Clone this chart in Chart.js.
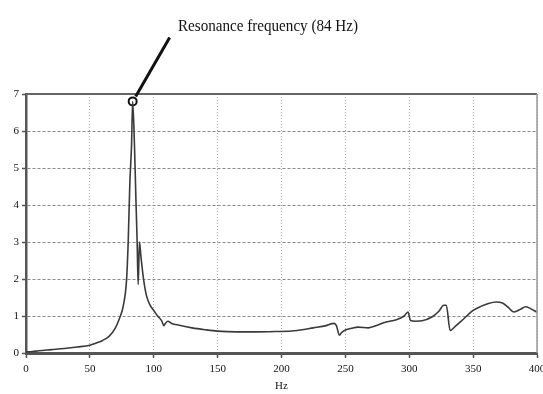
<!DOCTYPE html>
<html lang="en">
<head>
    <meta charset="UTF-8">
    <title>Resonance frequency</title>
    <script src="https://cdn.jsdelivr.net/npm/chart.js"></script>
    <style>
        body {
            margin: 0;
            padding: 0;
            background: #fff;
        }
        .chart-box {
            width: 543px;
            height: 394px;
        }
    </style>
</head>
<body>
    <div class="chart-box">
        <canvas id="respChart"></canvas>
    </div>

    <script>
        // frequency (Hz) and response amplitude
        const hz = [0, 5, 10, 20, 30, 40, 50, 55, 60, 65, 70, 73, 76, 78.7, 80, 81.3, 82.6, 83.5,
            85, 86, 87, 87.8, 88.8, 90, 92, 94.3, 97, 100, 103, 106, 108, 109, 111, 114,
            120, 130, 140, 150, 165, 180, 195, 210, 225, 235, 241, 243, 245.3, 247, 250, 255, 260,
            268, 275, 280, 290, 296, 299, 301, 305, 310, 318, 323, 327, 329, 332, 336, 340, 345,
            350, 356, 362, 368, 373, 377, 382, 387, 391, 395, 400];
        const amp = [0.03, 0.04, 0.06, 0.09, 0.12, 0.16, 0.21, 0.27, 0.34, 0.45, 0.68, 0.92, 1.25, 1.97, 3.0, 4.6, 5.6, 6.8,
            5.5, 4.2, 3.0, 1.85, 3.0, 2.6, 2.0, 1.55, 1.3, 1.15, 1.0, 0.88, 0.74, 0.8, 0.86, 0.8,
            0.75, 0.68, 0.63, 0.59, 0.57, 0.57, 0.58, 0.6, 0.68, 0.74, 0.8, 0.74, 0.48, 0.55, 0.62, 0.67, 0.7,
            0.68, 0.75, 0.82, 0.9, 1.0, 1.11, 0.88, 0.86, 0.87, 0.98, 1.12, 1.29, 1.29, 0.61, 0.72, 0.84, 1.0,
            1.15, 1.26, 1.34, 1.38, 1.35, 1.25, 1.11, 1.18, 1.25, 1.2, 1.1];
        const peak = { x: 83.5, y: 6.8 };
        const noteText = 'Resonance frequency (84 Hz)';
        const xTicks = [0, 50, 100, 150, 200, 250, 300, 350, 400];
        const yTicks = [0, 1, 2, 3, 4, 5, 6, 7];

        const points = hz.map((h, i) => ({ x: h, y: amp[i] }));

        // top / right frame and the leader note
        const framePlugin = {
            id: 'frame',
            afterDraw(chart) {
                const { ctx, chartArea } = chart;
                ctx.save();
                ctx.strokeStyle = '#666';
                ctx.lineWidth = 2;
                ctx.beginPath();
                ctx.moveTo(chartArea.left, chartArea.top);
                ctx.lineTo(chartArea.right, chartArea.top);
                ctx.stroke();
                ctx.strokeStyle = '#999';
                ctx.lineWidth = 1.5;
                ctx.beginPath();
                ctx.moveTo(chartArea.right, chartArea.top);
                ctx.lineTo(chartArea.right, chartArea.bottom);
                ctx.stroke();

                // leader line from the peak marker
                const px = chart.scales.x.getPixelForValue(peak.x);
                const py = chart.scales.y.getPixelForValue(peak.y);
                ctx.strokeStyle = '#111';
                ctx.lineWidth = 3;
                ctx.beginPath();
                ctx.moveTo(px + 3, py - 5);
                ctx.lineTo(px + 37, py - 64);
                ctx.stroke();

                ctx.fillStyle = '#111';
                ctx.font = '16px "Liberation Serif"';
                ctx.textBaseline = 'middle';
                const w = ctx.measureText(noteText).width;
                ctx.translate(178, 27);
                ctx.scale(180 / w, 1);
                ctx.fillText(noteText, 0, 0);
                ctx.restore();
            }
        };

        const tickFont = { family: 'Liberation Serif', size: 11 };

        new Chart(document.getElementById('respChart').getContext('2d'), {
            type: 'line',
            data: {
                datasets: [{
                    data: points,
                    borderColor: '#3a3a3a',
                    borderWidth: 1.6,
                    pointRadius: 0,
                    cubicInterpolationMode: 'monotone',
                    fill: false
                }, {
                    data: [peak],
                    showLine: false,
                    pointRadius: 4,
                    pointBorderWidth: 2,
                    pointBorderColor: '#111',
                    pointBackgroundColor: 'rgba(255,255,255,0)',
                    clip: false
                }]
            },
            options: {
                responsive: true,
                maintainAspectRatio: false,
                animation: false,
                layout: { padding: { top: 94, right: 5, left: 0, bottom: 0 } },
                plugins: {
                    legend: { display: false },
                    tooltip: { enabled: false }
                },
                scales: {
                    x: {
                        type: 'linear',
                        min: 0,
                        max: 400,
                        afterBuildTicks(scale) {
                            scale.ticks = xTicks.map(v => ({ value: v }));
                        },
                        afterFit(scale) {
                            scale.height = 41;
                            scale.paddingRight = 0;
                            scale.paddingLeft = 0;
                        },
                        ticks: { color: '#111', font: tickFont, padding: 5, maxRotation: 0 },
                        grid: { color: '#aaa', lineWidth: 1, tickLength: 5, tickColor: '#555', tickWidth: 1.5 },
                        border: { color: '#555', width: 3, dash: [1, 2] },
                        title: { display: true, text: 'Hz', color: '#111', font: tickFont, padding: { top: 0, bottom: 1 } }
                    },
                    y: {
                        min: 0,
                        max: 7,
                        afterBuildTicks(scale) {
                            scale.ticks = yTicks.map(v => ({ value: v }));
                        },
                        afterFit(scale) { scale.width = 26; },
                        ticks: { color: '#111', font: tickFont, padding: 3 },
                        grid: { color: '#888', lineWidth: 1, tickLength: 4, tickColor: '#555', tickWidth: 1.5 },
                        border: { color: '#555', width: 2.5, dash: [3, 2] }
                    }
                }
            },
            plugins: [framePlugin]
        });
    </script>
</body>
</html>
